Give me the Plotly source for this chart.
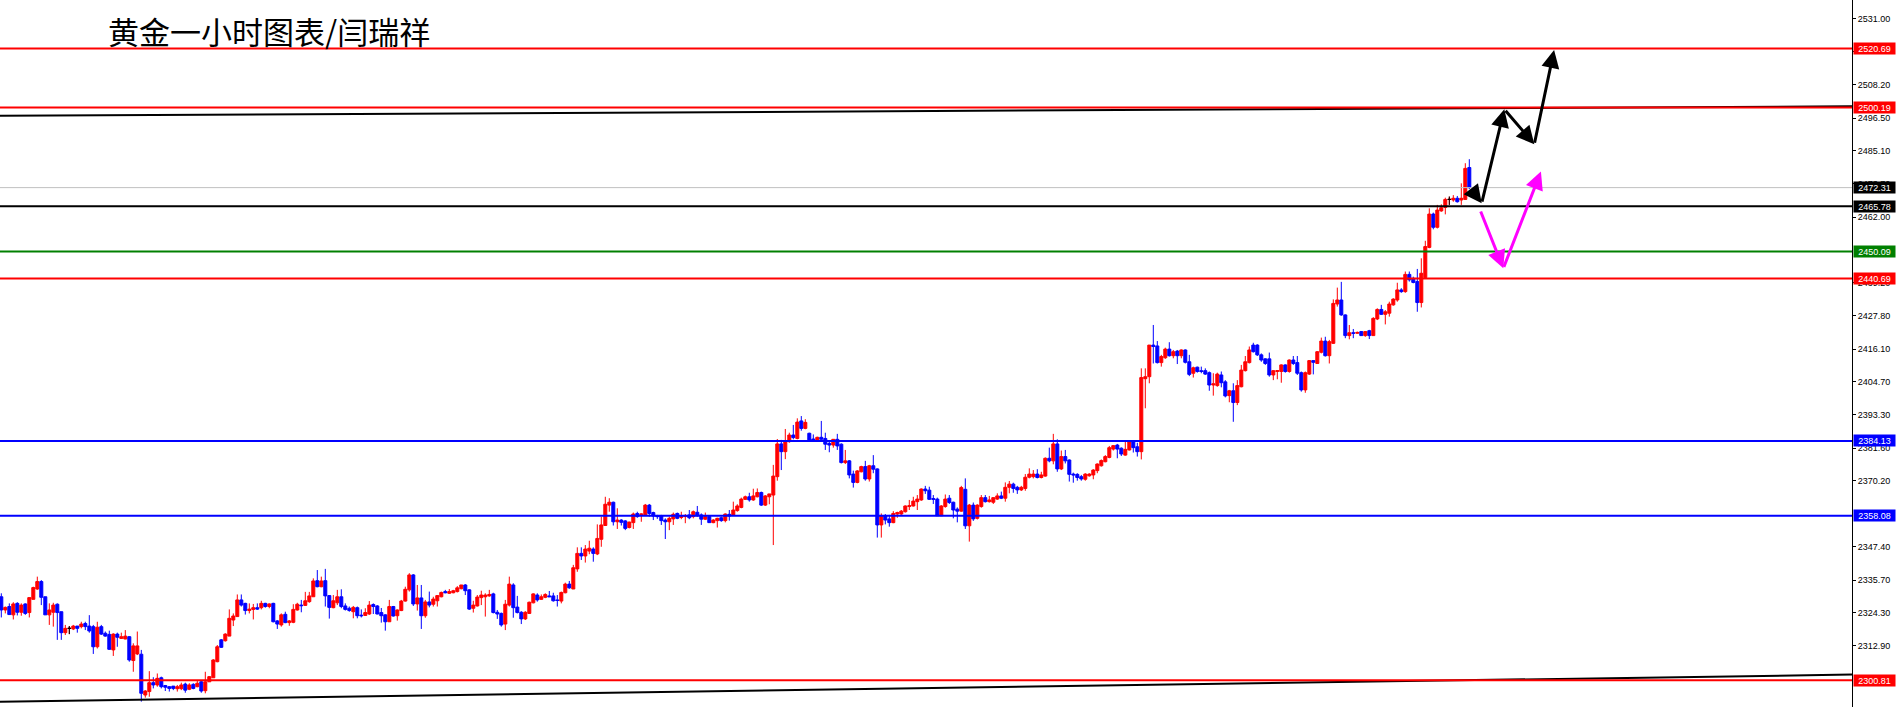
import plotly.graph_objects as go

# gold, 1h candles
opens = [
    2329.9, 2325.3, 2326.5, 2323.6, 2327.6, 2324.5, 2327.4, 2324.4, 2329.0, 2332.6,
    2335.2, 2329.9, 2323.6, 2324.5, 2327.3, 2324.7, 2317.4, 2318.9, 2318.7, 2319.7,
    2319.5, 2320.6, 2319.7, 2319.5, 2312.5, 2319.5, 2317.2, 2316.8, 2311.4, 2316.9,
    2315.4, 2315.2, 2316.0, 2307.7, 2310.0, 2309.9, 2295.7, 2296.9, 2300.0, 2299.2,
    2301.7, 2299.0, 2298.6, 2298.8, 2297.9, 2297.9, 2299.5, 2297.7, 2299.4, 2298.6,
    2300.3, 2297.2, 2300.3, 2301.7, 2307.3, 2314.9, 2314.6, 2316.2, 2321.8, 2323.0,
    2328.8, 2327.6, 2325.1, 2325.5, 2326.1, 2326.1, 2327.6, 2326.5, 2327.6, 2321.5,
    2320.1, 2323.8, 2320.9, 2321.0, 2325.3, 2327.0, 2326.9, 2328.2, 2329.9, 2335.5,
    2333.4, 2335.5, 2330.3, 2326.1, 2327.8, 2329.9, 2326.7, 2325.9, 2324.7, 2326.1,
    2323.5, 2323.4, 2323.9, 2327.2, 2326.7, 2324.4, 2323.6, 2321.2, 2326.5, 2323.3,
    2325.1, 2328.4, 2332.3, 2337.5, 2327.4, 2329.5, 2323.3, 2328.1, 2327.3, 2328.5,
    2329.9, 2331.7, 2331.1, 2331.3, 2331.7, 2332.7, 2334.0, 2332.3, 2325.9, 2326.7,
    2329.6, 2329.9, 2330.2, 2330.9, 2324.5, 2324.1, 2320.4, 2327.0, 2334.0, 2326.3,
    2324.5, 2322.2, 2324.1, 2327.8, 2330.5, 2329.0, 2329.7, 2330.2, 2330.2, 2328.8,
    2328.4, 2331.3, 2334.3, 2332.6, 2339.6, 2345.0, 2344.1, 2345.8, 2346.5, 2344.8,
    2349.9, 2354.7, 2361.8, 2362.8, 2356.0, 2356.6, 2356.3, 2354.0, 2355.7, 2358.9,
    2358.5, 2358.4, 2361.8, 2359.2, 2358.1, 2358.0, 2356.6, 2356.0, 2357.0, 2358.9,
    2357.5, 2357.8, 2358.4, 2357.8, 2359.3, 2358.4, 2356.9, 2357.8, 2355.7, 2356.4,
    2357.4, 2356.4, 2358.6, 2358.4, 2359.9, 2361.0, 2363.8, 2364.7, 2363.6, 2364.7,
    2366.2, 2361.8, 2364.7, 2365.3, 2371.7, 2383.1, 2380.4, 2383.9, 2386.2, 2385.0,
    2391.1, 2388.5, 2386.8, 2384.8, 2384.5, 2385.4, 2385.0, 2383.3, 2382.7, 2384.7,
    2383.0, 2376.6, 2377.2, 2372.6, 2369.7, 2373.4, 2375.2, 2370.9, 2375.5, 2374.4,
    2354.9, 2358.0, 2357.0, 2355.7, 2358.7, 2358.7, 2359.5, 2361.3, 2361.5, 2363.0,
    2363.6, 2367.4, 2367.0, 2364.1, 2363.9, 2358.1, 2361.3, 2364.2, 2362.8, 2360.4,
    2359.7, 2367.3, 2354.6, 2361.8, 2357.2, 2361.3, 2364.4, 2363.0, 2362.8, 2363.9,
    2365.0, 2364.2, 2368.0, 2369.1, 2368.0, 2367.1, 2367.6, 2371.5, 2371.7, 2372.6,
    2371.4, 2371.9, 2378.1, 2377.2, 2383.1, 2374.4, 2378.7, 2377.5, 2372.6, 2372.5,
    2371.7, 2370.8, 2372.0, 2372.3, 2373.8, 2375.5, 2376.9, 2378.4, 2381.3, 2382.7,
    2381.6, 2379.2, 2381.0, 2383.9, 2382.1, 2380.4, 2405.8, 2406.5, 2417.5, 2417.2,
    2411.4, 2413.1, 2416.1, 2413.8, 2415.4, 2413.8, 2415.8, 2411.7, 2407.7, 2409.8,
    2408.6, 2408.6, 2407.9, 2403.6, 2403.4, 2407.1, 2404.7, 2399.9, 2401.6, 2397.5,
    2403.0, 2408.6, 2411.4, 2417.5, 2417.5, 2414.1, 2412.7, 2412.7, 2407.1, 2408.3,
    2408.3, 2410.6, 2408.3, 2412.3, 2411.4, 2407.9, 2401.9, 2407.4, 2412.1, 2411.1,
    2415.0, 2418.9, 2413.8, 2418.1, 2431.8, 2433.2, 2428.0, 2420.8, 2421.8, 2421.6,
    2422.2, 2420.8, 2422.5, 2420.8, 2426.6, 2429.9, 2428.2, 2428.6, 2431.5, 2433.2,
    2436.7, 2436.1, 2442.1, 2440.7, 2439.6, 2432.3, 2441.0, 2451.5, 2463.1, 2458.5,
    2464.2, 2465.4, 2468.2, 2468.0, 2468.6, 2468.0, 2468.2, 2479.3,
]
highs = [
    2331.1, 2326.5, 2327.6, 2328.0, 2328.0, 2327.6, 2327.6, 2329.6, 2333.4, 2336.9,
    2335.7, 2329.9, 2327.6, 2327.8, 2327.6, 2324.7, 2320.1, 2319.7, 2320.1, 2319.7,
    2321.2, 2321.2, 2323.5, 2320.1, 2321.2, 2320.1, 2317.8, 2318.1, 2317.2, 2317.4,
    2317.4, 2318.3, 2316.2, 2313.7, 2317.8, 2311.4, 2297.4, 2304.0, 2301.9, 2303.2,
    2302.1, 2299.2, 2298.8, 2298.8, 2299.2, 2300.0, 2300.0, 2299.8, 2299.8, 2300.7,
    2300.7, 2303.8, 2302.3, 2308.2, 2313.1, 2315.2, 2317.2, 2325.5, 2324.1, 2330.7,
    2330.7, 2327.8, 2327.6, 2327.4, 2327.6, 2328.5, 2327.8, 2327.6, 2327.8, 2321.8,
    2324.1, 2324.7, 2321.8, 2327.3, 2327.8, 2328.8, 2331.6, 2331.6, 2336.3, 2339.2,
    2336.9, 2339.6, 2330.5, 2330.5, 2332.3, 2332.5, 2327.6, 2326.5, 2326.7, 2326.5,
    2325.5, 2325.9, 2328.4, 2327.6, 2327.0, 2326.0, 2323.8, 2328.8, 2326.7, 2325.5,
    2328.8, 2333.4, 2338.1, 2337.8, 2334.0, 2334.0, 2328.8, 2331.7, 2329.9, 2330.5,
    2331.7, 2332.3, 2332.6, 2332.3, 2333.6, 2334.0, 2334.3, 2332.5, 2328.5, 2330.5,
    2332.0, 2331.1, 2332.3, 2331.3, 2325.3, 2324.4, 2328.8, 2336.9, 2334.6, 2330.2,
    2324.9, 2324.9, 2328.2, 2331.1, 2331.1, 2330.7, 2331.1, 2331.9, 2331.3, 2330.5,
    2331.7, 2334.8, 2335.4, 2341.0, 2347.1, 2347.1, 2347.9, 2349.4, 2347.1, 2355.1,
    2357.8, 2364.7, 2364.2, 2363.0, 2360.7, 2356.9, 2356.6, 2356.0, 2359.2, 2359.5,
    2358.9, 2362.2, 2362.2, 2359.5, 2358.4, 2358.4, 2357.2, 2357.8, 2359.2, 2359.2,
    2359.5, 2358.7, 2360.1, 2359.9, 2361.5, 2358.9, 2359.2, 2358.0, 2356.9, 2357.4,
    2357.8, 2358.9, 2360.1, 2363.0, 2362.1, 2364.4, 2365.1, 2366.1, 2367.5, 2367.6,
    2366.5, 2365.3, 2365.7, 2375.8, 2384.8, 2384.5, 2388.3, 2387.0, 2389.7, 2392.0,
    2392.8, 2391.7, 2387.0, 2386.4, 2385.6, 2391.1, 2387.0, 2383.9, 2384.8, 2386.6,
    2383.3, 2381.0, 2377.5, 2373.8, 2374.0, 2375.5, 2377.2, 2375.8, 2379.2, 2374.6,
    2358.9, 2358.7, 2358.4, 2359.7, 2359.5, 2360.1, 2361.7, 2363.6, 2364.7, 2365.3,
    2367.6, 2368.5, 2368.2, 2365.3, 2364.4, 2361.8, 2365.5, 2365.3, 2363.0, 2361.0,
    2368.5, 2371.1, 2362.2, 2362.7, 2362.1, 2365.3, 2365.3, 2365.0, 2364.5, 2365.9,
    2366.5, 2369.7, 2370.2, 2369.6, 2368.5, 2368.5, 2372.6, 2374.6, 2374.0, 2374.3,
    2373.4, 2378.4, 2381.8, 2386.6, 2384.7, 2380.8, 2381.0, 2377.7, 2373.1, 2372.9,
    2372.3, 2372.9, 2372.9, 2374.3, 2376.3, 2377.7, 2379.2, 2382.4, 2382.7, 2383.1,
    2381.9, 2383.9, 2384.2, 2384.2, 2383.5, 2409.4, 2409.4, 2417.5, 2424.5, 2418.9,
    2414.1, 2416.6, 2418.5, 2415.8, 2415.8, 2416.0, 2416.0, 2414.1, 2410.0, 2410.0,
    2410.0, 2409.4, 2408.3, 2407.7, 2407.9, 2408.3, 2405.3, 2401.9, 2404.2, 2405.3,
    2410.6, 2413.7, 2417.0, 2418.3, 2417.8, 2414.6, 2412.9, 2414.9, 2408.8, 2408.8,
    2410.8, 2410.8, 2412.5, 2413.7, 2413.7, 2408.3, 2408.3, 2412.3, 2412.1, 2415.4,
    2420.1, 2420.4, 2419.3, 2433.4, 2437.5, 2439.5, 2428.2, 2424.5, 2423.1, 2422.2,
    2422.4, 2422.4, 2422.8, 2427.2, 2430.3, 2431.5, 2429.7, 2432.6, 2433.8, 2439.2,
    2437.3, 2443.1, 2443.1, 2441.3, 2444.0, 2447.7, 2453.8, 2465.1, 2463.6, 2466.3,
    2466.5, 2468.8, 2469.2, 2469.7, 2469.4, 2473.8, 2480.8, 2482.2,
]
lows = [
    2322.7, 2324.1, 2323.6, 2322.0, 2323.4, 2323.3, 2323.6, 2322.7, 2329.0, 2332.3,
    2327.0, 2323.6, 2320.1, 2319.5, 2314.9, 2314.9, 2316.6, 2316.9, 2318.3, 2317.4,
    2318.9, 2318.3, 2317.4, 2310.0, 2311.9, 2316.6, 2316.0, 2311.4, 2309.3, 2312.5,
    2315.2, 2315.1, 2307.3, 2303.8, 2309.6, 2293.4, 2294.8, 2295.1, 2298.0, 2298.6,
    2298.0, 2297.1, 2296.9, 2297.4, 2296.9, 2297.4, 2296.5, 2297.4, 2297.7, 2298.4,
    2296.5, 2296.3, 2300.3, 2301.7, 2307.1, 2312.1, 2314.3, 2316.2, 2319.7, 2323.0,
    2326.5, 2323.7, 2324.1, 2322.0, 2325.3, 2325.5, 2326.1, 2325.9, 2321.0, 2318.7,
    2319.5, 2320.7, 2319.8, 2320.7, 2325.1, 2324.5, 2326.7, 2327.8, 2329.9, 2333.2,
    2333.2, 2326.5, 2322.3, 2325.9, 2327.0, 2325.9, 2325.1, 2324.7, 2322.4, 2322.4,
    2322.7, 2323.2, 2323.6, 2323.9, 2323.8, 2320.9, 2318.1, 2321.2, 2323.0, 2321.6,
    2324.9, 2328.2, 2331.7, 2326.7, 2325.1, 2318.7, 2322.6, 2326.2, 2326.5, 2326.5,
    2329.7, 2331.1, 2330.9, 2331.1, 2331.4, 2332.5, 2330.5, 2325.3, 2324.4, 2326.5,
    2327.0, 2323.0, 2329.9, 2324.1, 2322.2, 2319.5, 2318.3, 2326.5, 2322.6, 2324.1,
    2320.4, 2321.8, 2323.9, 2327.6, 2328.2, 2328.8, 2329.4, 2329.9, 2328.2, 2326.5,
    2327.6, 2331.1, 2332.7, 2332.6, 2338.6, 2342.7, 2341.8, 2344.7, 2342.1, 2344.4,
    2347.3, 2354.7, 2359.5, 2354.7, 2353.5, 2354.7, 2353.1, 2353.7, 2353.5, 2357.4,
    2356.0, 2358.4, 2357.8, 2356.6, 2357.0, 2354.9, 2350.0, 2353.1, 2354.9, 2356.9,
    2356.9, 2355.5, 2356.9, 2357.2, 2357.8, 2354.9, 2356.6, 2355.7, 2355.5, 2354.0,
    2356.0, 2355.8, 2356.4, 2358.1, 2359.5, 2360.7, 2363.6, 2363.0, 2363.3, 2364.5,
    2361.5, 2361.5, 2362.1, 2347.9, 2370.3, 2374.0, 2377.8, 2383.5, 2384.7, 2384.7,
    2387.7, 2388.2, 2384.2, 2383.9, 2384.2, 2384.5, 2381.0, 2380.2, 2381.8, 2381.0,
    2376.3, 2376.1, 2371.1, 2367.9, 2369.4, 2373.2, 2370.3, 2370.0, 2372.9, 2350.5,
    2350.5, 2355.1, 2354.3, 2355.5, 2357.4, 2358.4, 2359.2, 2360.1, 2361.3, 2360.1,
    2363.3, 2365.7, 2363.6, 2362.2, 2358.0, 2358.0, 2360.9, 2362.2, 2357.2, 2355.8,
    2359.5, 2353.5, 2349.1, 2356.3, 2356.8, 2360.9, 2362.7, 2362.7, 2362.2, 2363.6,
    2363.9, 2363.0, 2365.9, 2366.1, 2365.7, 2366.7, 2366.8, 2371.1, 2371.1, 2371.1,
    2371.1, 2371.7, 2376.7, 2376.0, 2373.4, 2374.0, 2376.3, 2370.0, 2369.6, 2370.3,
    2370.3, 2370.3, 2371.7, 2370.8, 2372.9, 2375.2, 2376.7, 2378.1, 2380.8, 2378.1,
    2378.9, 2379.0, 2380.8, 2380.1, 2378.7, 2377.7, 2395.5, 2404.2, 2411.1, 2411.1,
    2410.0, 2412.7, 2413.5, 2412.9, 2410.9, 2412.9, 2411.1, 2406.7, 2406.2, 2407.9,
    2407.7, 2407.1, 2401.6, 2399.9, 2403.0, 2402.8, 2399.3, 2397.6, 2390.8, 2396.6,
    2402.8, 2408.3, 2411.1, 2414.9, 2413.7, 2411.7, 2410.6, 2406.5, 2405.3, 2405.6,
    2404.4, 2407.9, 2407.9, 2410.6, 2407.1, 2401.3, 2400.9, 2407.1, 2407.3, 2411.1,
    2414.6, 2413.5, 2411.1, 2417.9, 2430.9, 2427.7, 2419.9, 2419.5, 2419.9, 2421.4,
    2420.7, 2420.4, 2419.6, 2420.7, 2426.2, 2428.0, 2424.7, 2427.4, 2431.2, 2432.6,
    2435.7, 2435.7, 2439.6, 2439.0, 2429.1, 2430.6, 2440.7, 2451.2, 2457.8, 2458.1,
    2463.9, 2463.0, 2466.3, 2467.4, 2467.1, 2466.3, 2468.0, 2471.8,
]
closes = [
    2325.3, 2326.2, 2323.7, 2327.4, 2324.5, 2327.0, 2324.1, 2329.6, 2333.1, 2335.2,
    2329.7, 2323.6, 2325.3, 2327.0, 2324.4, 2317.4, 2318.9, 2318.9, 2319.7, 2318.9,
    2320.4, 2319.5, 2318.0, 2312.5, 2319.3, 2316.9, 2316.2, 2311.6, 2316.9, 2315.8,
    2316.0, 2316.2, 2307.9, 2312.8, 2312.8, 2296.3, 2297.1, 2300.0, 2299.2, 2301.5,
    2298.6, 2298.4, 2298.0, 2298.0, 2298.6, 2299.2, 2297.4, 2299.2, 2298.0, 2299.8,
    2297.1, 2300.3, 2302.1, 2307.9, 2312.5, 2312.3, 2316.9, 2322.4, 2323.2, 2328.8,
    2327.0, 2325.1, 2325.6, 2326.1, 2325.6, 2327.6, 2326.5, 2327.4, 2321.2, 2320.4,
    2323.6, 2320.9, 2321.5, 2325.5, 2327.3, 2326.8, 2328.5, 2330.2, 2335.4, 2333.4,
    2335.4, 2330.2, 2326.2, 2328.5, 2329.9, 2326.5, 2325.5, 2325.1, 2326.2, 2323.3,
    2323.3, 2324.4, 2327.0, 2326.5, 2323.9, 2323.3, 2321.2, 2326.5, 2323.2, 2325.3,
    2328.4, 2332.5, 2337.5, 2327.4, 2329.5, 2323.3, 2328.1, 2327.0, 2329.1, 2330.3,
    2331.4, 2331.3, 2331.7, 2332.0, 2333.0, 2334.0, 2332.0, 2325.6, 2327.0, 2329.8,
    2330.5, 2330.5, 2330.7, 2324.4, 2323.9, 2320.1, 2327.3, 2334.3, 2326.1, 2324.4,
    2322.2, 2324.5, 2328.0, 2330.9, 2328.8, 2329.9, 2330.7, 2329.9, 2328.5, 2328.6,
    2331.4, 2334.3, 2333.0, 2340.0, 2345.0, 2344.1, 2346.5, 2346.8, 2345.0, 2350.2,
    2354.9, 2362.1, 2362.8, 2356.0, 2356.6, 2355.8, 2353.7, 2355.9, 2358.7, 2357.8,
    2358.7, 2361.8, 2358.9, 2358.0, 2357.8, 2356.4, 2356.0, 2357.2, 2358.6, 2357.2,
    2358.0, 2358.0, 2357.4, 2359.5, 2358.1, 2356.9, 2357.8, 2355.7, 2356.6, 2357.2,
    2356.4, 2358.7, 2358.0, 2360.1, 2361.5, 2363.9, 2364.7, 2363.6, 2365.0, 2366.2,
    2361.8, 2365.0, 2365.7, 2371.9, 2383.1, 2380.4, 2384.1, 2386.2, 2385.3, 2390.7,
    2388.5, 2390.6, 2384.5, 2384.2, 2385.4, 2384.7, 2383.0, 2382.7, 2384.7, 2382.4,
    2376.6, 2377.2, 2372.3, 2369.7, 2373.7, 2375.2, 2370.9, 2375.5, 2374.3, 2354.9,
    2358.1, 2356.6, 2355.7, 2358.9, 2359.2, 2359.7, 2361.5, 2361.6, 2363.2, 2363.9,
    2367.4, 2366.8, 2363.8, 2363.8, 2358.1, 2361.5, 2363.9, 2362.7, 2360.1, 2359.7,
    2367.9, 2354.6, 2361.8, 2357.0, 2361.8, 2364.4, 2363.0, 2363.6, 2364.4, 2365.0,
    2364.2, 2368.0, 2369.1, 2367.6, 2367.1, 2368.0, 2371.5, 2372.6, 2372.6, 2371.4,
    2372.3, 2378.1, 2377.2, 2383.1, 2374.4, 2378.7, 2377.2, 2372.5, 2372.3, 2371.4,
    2370.9, 2372.6, 2372.6, 2374.0, 2376.1, 2377.3, 2378.7, 2381.8, 2382.5, 2381.3,
    2379.6, 2381.2, 2383.9, 2381.8, 2380.4, 2406.2, 2406.5, 2417.5, 2417.0, 2411.4,
    2413.5, 2416.1, 2413.8, 2415.2, 2413.8, 2415.8, 2411.5, 2407.3, 2409.6, 2408.3,
    2408.3, 2407.4, 2403.6, 2404.0, 2407.4, 2404.4, 2399.8, 2401.6, 2397.5, 2403.4,
    2408.8, 2411.7, 2415.8, 2415.2, 2414.1, 2412.3, 2411.1, 2407.1, 2408.6, 2408.6,
    2410.6, 2408.3, 2412.3, 2411.1, 2407.7, 2401.9, 2407.9, 2412.1, 2411.5, 2415.2,
    2418.9, 2413.8, 2418.7, 2432.0, 2433.2, 2428.0, 2420.8, 2421.8, 2421.6, 2421.9,
    2420.8, 2422.2, 2420.8, 2426.8, 2429.9, 2428.2, 2429.1, 2431.8, 2433.5, 2436.7,
    2436.1, 2442.1, 2440.2, 2439.3, 2432.3, 2442.5, 2451.8, 2463.1, 2458.5, 2464.5,
    2465.3, 2468.2, 2468.2, 2468.6, 2467.4, 2468.6, 2479.0, 2472.3,
]
bars = list(range(len(closes)))

# horizontal levels and their label colours
levels = [2520.69, 2500.19, 2465.78, 2450.09, 2440.69, 2384.13, 2358.08, 2300.81]
level_colors = ["#ff0000", "#ff0000", "#000000", "#008000",
                "#ff0000", "#0000ff", "#0000ff", "#ff0000"]
last_price = 2472.31

# scale labels (the ones fully under a price tag are left out)
price_ticks = [2531.00, 2519.80, 2508.20, 2496.50, 2485.10, 2473.70, 2462.00,
               2439.20, 2427.80, 2416.10, 2404.70, 2393.30, 2381.60,
               2370.20, 2347.40, 2335.70, 2324.30, 2312.90]

# trend lines (from left edge to right edge of the chart)
trend_x = [-0.325, 462.675]
upper_trend = [2497.3, 2500.6]
lower_trend = [2293.4, 2302.8]

# projected paths drawn as arrows
black_path_x = [367.6, 370.1, 375.75, 383.25, 388.2]
black_path_y = [2471.5, 2466.9, 2499.6, 2487.4, 2520.2]
pink_path_x = [369.7, 375.5, 384.9]
pink_path_y = [2464.5, 2444.2, 2477.9]

W, H = 1897, 707
R_MARGIN = 45
y_range = [2291.53, 2537.61]

fig = go.Figure()

fig.add_trace(go.Candlestick(
    x=bars, open=opens, high=highs, low=lows, close=closes,
    increasing=dict(line=dict(color="#ff0000", width=1), fillcolor="#ff0000"),
    decreasing=dict(line=dict(color="#0000ff", width=1), fillcolor="#0000ff"),
    whiskerwidth=0, showlegend=False, hoverinfo="skip",
))

# flat (open == close) bars are drawn black, as on the terminal
doji = [i for i in bars if opens[i] == closes[i]]
fig.add_trace(go.Candlestick(
    x=doji, open=[opens[i] for i in doji], high=[highs[i] for i in doji],
    low=[lows[i] for i in doji], close=[closes[i] for i in doji],
    increasing=dict(line=dict(color="#000000", width=1), fillcolor="#000000"),
    decreasing=dict(line=dict(color="#000000", width=1), fillcolor="#000000"),
    whiskerwidth=0, showlegend=False, hoverinfo="skip",
))

for tr in (upper_trend, lower_trend):
    fig.add_trace(go.Scatter(
        x=trend_x, y=tr, mode="lines",
        line=dict(color="#000000", width=2),
        showlegend=False, hoverinfo="skip", cliponaxis=True,
    ))

shapes = []
shapes.append(dict(type="line", xref="paper", yref="y", x0=0, x1=1,
                   y0=last_price, y1=last_price,
                   line=dict(color="#c0c0c0", width=1)))
for lv, col in zip(levels, level_colors):
    shapes.append(dict(type="line", xref="paper", yref="y", x0=0, x1=1,
                       y0=lv, y1=lv, line=dict(color=col, width=2)))

annotations = []
annotations.append(dict(
    text="黄金一小时图表/闫瑞祥", xref="paper", yref="paper",
    x=106 / (W - R_MARGIN), y=1 - 31 / H, xanchor="left", yanchor="middle",
    showarrow=False, font=dict(family="Noto Sans CJK SC", size=31, color="#000000"),
))

# price tags on the right scale
tags = [(last_price, "#000000")] + list(zip(levels, level_colors))
for val, col in tags:
    annotations.append(dict(
        text=f"{val:.2f}", xref="paper", yref="y", x=1, y=val,
        xanchor="left", yanchor="middle", xshift=1, showarrow=False,
        bgcolor=col, width=41, height=11, borderpad=0, align="center",
        font=dict(family="Liberation Sans", size=9, color="#ffffff"),
    ))

for px, py, col in ((black_path_x, black_path_y, "#000000"),
                    (pink_path_x, pink_path_y, "#ff00ff")):
    for k in range(len(px) - 1):
        annotations.append(dict(
            x=px[k + 1], y=py[k + 1], ax=px[k], ay=py[k],
            xref="x", yref="y", axref="x", ayref="y", text="",
            showarrow=True, arrowhead=2, arrowsize=1.2, arrowwidth=3,
            arrowcolor=col, standoff=0, startstandoff=0,
        ))

fig.update_layout(
    width=W, height=H,
    margin=dict(l=0, r=R_MARGIN, t=0, b=0),
    paper_bgcolor="#ffffff", plot_bgcolor="#ffffff",
    shapes=shapes, annotations=annotations,
    showlegend=False, boxgap=0.25, boxgroupgap=0, boxmode="overlay",
    xaxis=dict(range=trend_x, visible=False, rangeslider=dict(visible=False),
               fixedrange=True),
    yaxis=dict(range=y_range, side="right", showgrid=False, zeroline=False,
               showline=True, linecolor="#000000", linewidth=1,
               ticks="outside", ticklen=3, tickcolor="#000000",
               tickvals=price_ticks, ticktext=[f"{v:.2f}" for v in price_ticks],
               tickfont=dict(family="Liberation Sans", size=9, color="#000000"),
               fixedrange=True),
)

# page margin off so the chart sits flush in the window
fig.write_html("out.html", config={"displayModeBar": False},
               post_script="document.body.style.margin='0';")
